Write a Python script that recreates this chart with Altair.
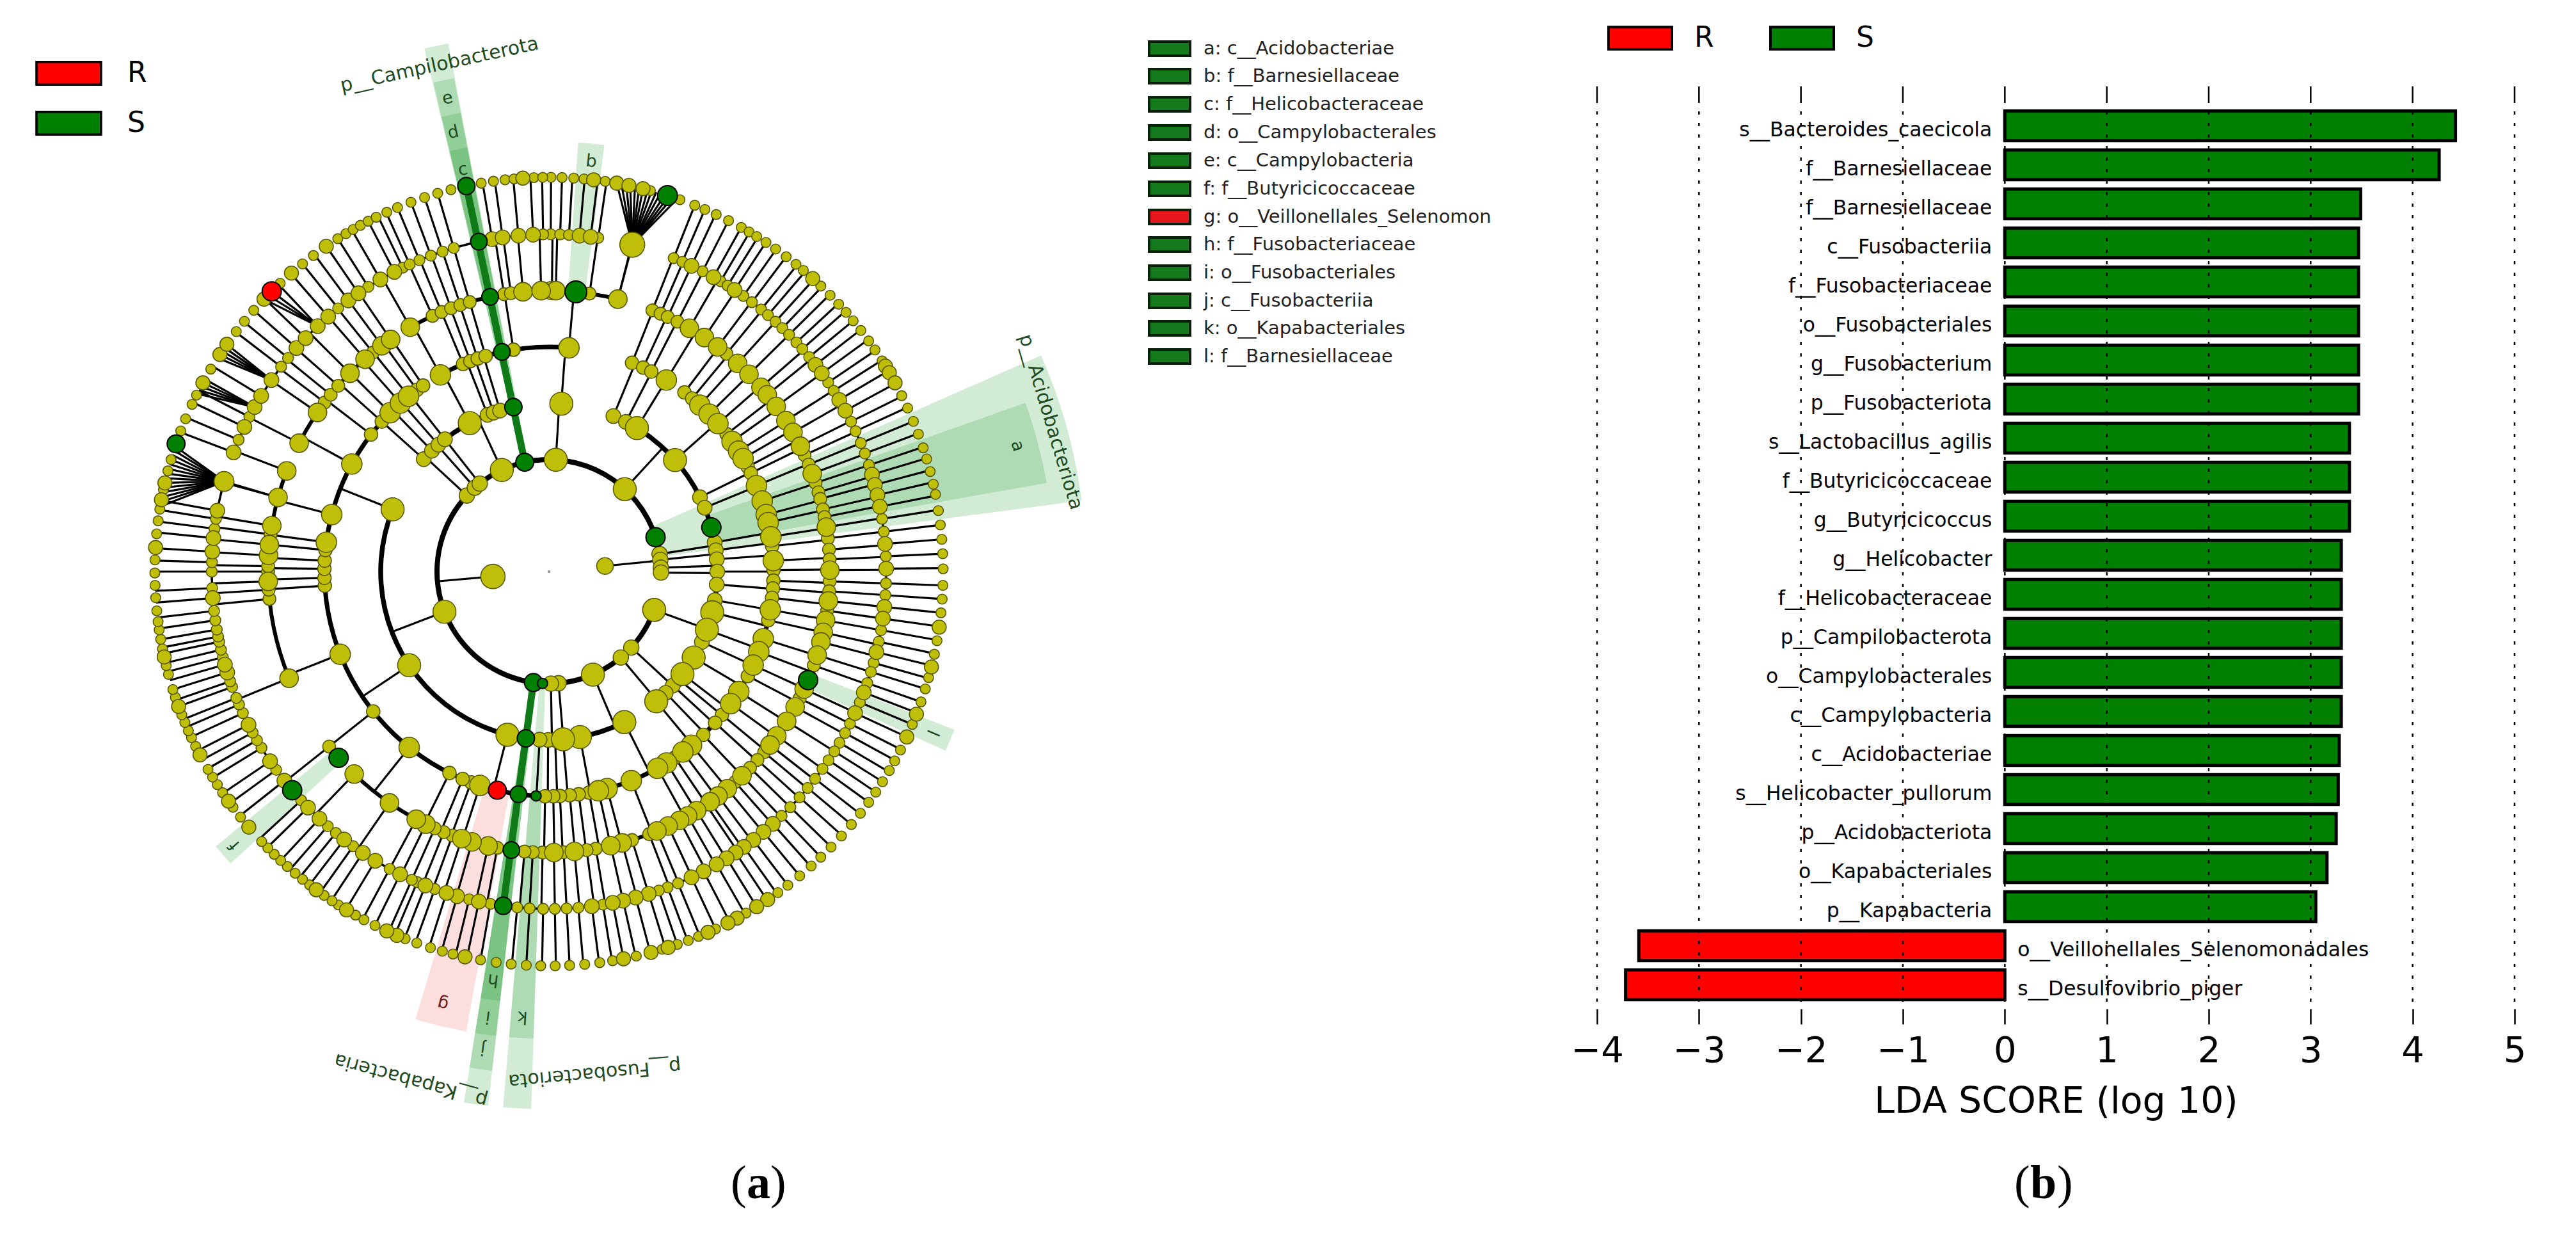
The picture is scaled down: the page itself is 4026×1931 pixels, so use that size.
import math
import altair as alt
import pandas as pd

# ---------- bar panel values ----------
bar_labels = ["s__Bacteroides_caecicola","f__Barnesiellaceae","f__Barnesiellaceae","c__Fusobacteriia",
 "f__Fusobacteriaceae","o__Fusobacteriales","g__Fusobacterium","p__Fusobacteriota","s__Lactobacillus_agilis",
 "f__Butyricicoccaceae","g__Butyricicoccus","g__Helicobacter","f__Helicobacteraceae","p__Campilobacterota",
 "o__Campylobacterales","c__Campylobacteria","c__Acidobacteriae","s__Helicobacter_pullorum","p__Acidobacteriota",
 "o__Kapabacteriales","p__Kapabacteria","o__Veillonellales_Selenomonadales","s__Desulfovibrio_piger"]
bar_scores = [4.42,4.26,3.49,3.47,3.47,3.47,3.47,3.47,3.38,3.38,3.38,3.30,3.30,3.30,3.30,3.30,3.28,3.27,3.25,3.16,3.05,-3.59,-3.72]
lda_ticks = [-4,-3,-2,-1,0,1,2,3,4,5]

# ---------- clade list ----------
clade_keys = ["a: c__Acidobacteriae","b: f__Barnesiellaceae","c: f__Helicobacteraceae","d: o__Campylobacterales",
 "e: c__Campylobacteria","f: f__Butyricicoccaceae","g: o__Veillonellales_Selenomon","h: f__Fusobacteriaceae",
 "i: o__Fusobacteriales","j: c__Fusobacteriia","k: o__Kapabacteriales","l: f__Barnesiellaceae"]
clade_classes = ["S","S","S","S","S","S","R","S","S","S","S","S"]

# ---------- cladogram: node angles (deg clockwise from north) per ring ----------
ring_radii = [175,263,351,439,527,616]
ring_thick = [8,7.5,7,6,3.5]
ring_small_d = [24,23,21,20,17,15.5]
ring_big_d = [36,36,32,29,23,22]

ring1_small = [81,84,88,90.5,132.7,140.1,175.1,179,312.8,318.5,321.8]
ring1_big = [3.5,42.6,110,156.9,249,335.1]
ring2_small = [22.5,27.2,63.8,67.7,80,82.7,85.8,90,94.4,99.8,114.7,129.7,132.6,136.1,177.9,180.3,183.2,311.9,315.9,318.9,321.8,338.6,340.8,343.1]
ring2_big = [4.2,31.5,48.5,104,110.2,120.7,127.5,140.4,153.4,169.4,175.2,194.3,236.2,291.7,331.9]
ring3_small = [21.7,24.8,27.1,37.1,39.6,52.3,62.2,64,83.5,89.6,92.3,94.3,96.7,102.5,117.7,129.6,132.3,136.6,145.9,169.7,172.4,174.7,177.2,178.9,181,200.3,202.6,206.3,231.5,266.4,268.4,270.7,272.8,275.5,307.6,311.9,324,325.9,337.5,339.5,341.5,343.6,350.9]
ring3_big = [5.1,31.5,42.2,45.5,48.8,54.6,57.6,59.8,67.5,71.7,75.3,77.4,81.1,87.2,99.8,107.4,110.9,114.6,122.3,126,140.6,143.4,148.4,151.1,158.5,165,167.3,197.9,218.5,248.4,277.5,284.7,298.6,315,318.6,321.3,331.1]
ring4_small = [8.3,21.6,23.4,25,27.2,39.2,65.5,67.6,71.6,73.6,75,77.2,78.8,83.2,85.5,87.5,92,94,98,109.5,116.8,130,132.1,134.3,138.5,146,159.1,162.8,170.4,172.3,177,181.3,183.3,185,190.6,200.1,202,204,231.5,264.4,266.3,270,271.1,277.6,307,309,311.4,321.2,335.5,337.5,339.6,341.6,343.6,350.8,352.2]
ring4_big = [0.6,1.4,14.2,30,33.6,36.9,42.2,45.4,49,51,54,57.5,60.3,63.5,69.6,80.9,89.7,96,100,102.5,104.5,107.3,114.7,118.8,122.2,125.8,128.1,136.6,140.6,143,145,148.3,150.4,152.3,154.9,157.4,164.9,167.3,174.8,179,192.5,195.9,198.1,206,208.2,214.6,223.9,247.7,268,273.3,275.5,279.4,285.3,291,297.2,304.5,314.9,319.1,323.5,325.7,330.4,354.7,358.4]
ring5_small = [0.3,1.9,3.4,8.4,21.7,23.3,27.1,30.6,32,35.2,37,39,40.5,42.2,43.8,45.4,47.2,48.7,50.5,55.9,57.6,63.6,65.4,67.6,69.5,71.6,81,83.2,87.4,92,94,100,102,105.7,107.3,109.3,112.8,116.8,118.6,120.5,122.2,124,125.8,127.9,129.9,132,134.3,136.4,157.5,159.4,161,170.8,175,177,179,181,183.3,185.4,190,193.7,199.8,203,204,208.2,215.5,219.2,221,227.3,234,238.5,240,241.5,245.2,246.8,248,250,251,255.3,256.6,258,258.9,260.1,261.7,263.3,267.2,270,271.6,277.3,279,293,297.3,307.4,309.3,321.3,327.6,334.3,335.6,337.4,339.5,341.6,343.6,359]
ring5_big = [5.2,7.1,25,29.2,33.4,52.2,54,59.4,61.5,73.3,75.1,76.9,78.9,85.3,89.5,96,98,103.8,111,114.8,138.4,140.5,142.7,144.7,146.4,148.2,150.2,152.7,155,162.8,165.1,167.3,169.1,172.7,192,195.8,197.7,201.5,206.2,211,213.5,217.4,222.9,225.6,231.7,235.8,243,252.6,254,265.5,273.4,275.7,280.4,290.7,295.4,299.2,301.4,304.6,311.5,313.8,316.7,319.1,323.5,325.6,330,332.7,350.3,352.1,354.8,357.3]
ring6_small = [0.3,1.9,3.6,5.1,8.2,14.9,19.4,21.7,23.3,25.1,27.1,29.2,30.5,31.8,33.4,35.1,37,38.8,40.2,43.6,45.5,47.3,48.9,50.5,52.3,54.2,55.8,57.7,63.5,65.5,67.6,69.6,71.7,73.4,75.3,77.2,78.7,81.1,83.2,85.3,87.4,89.6,92,94,96,100.1,102.1,105.6,107.3,109.3,112.8,116.9,118.7,120.3,122.2,124,125.8,127.8,129.9,132.1,134.3,136.4,138.3,140.5,142.7,144.5,150,155,157.7,159.3,161,163.3,167.2,170.7,172.6,174.8,177,179.1,181.2,183.3,185.5,187.7,190,194.1,195.7,197.5,199.6,201.4,206.2,208,209.4,212.3,213.4,214.8,217.4,218.7,220.1,221.6,222.9,224.2,225.5,226.8,231.5,233.3,235.9,237.3,238.6,239.9,243.7,245.1,246.2,247.5,248.7,251.4,252.6,254.9,256.2,258.7,260.1,261.5,262.7,264.3,266.2,268,269.8,271.7,275.5,277.4,279.1,282,284.8,286.5,290.9,292.8,295.1,296.6,300.9,307.5,309.4,311.5,317,321.3,323.3,327.6,329,330.2,331.4,332.7,334,335.7,337.4,339.5,341.6,343.6,345.6,350.1,351.9,353.6,354.9,357.8,359.1]
ring6_big = [6.5,9.9,11.7,13.8,42,58.6,59.7,61.4,98.1,104,111.2,114.8,146.3,148.2,151.5,153,156.2,162.4,165,169.1,192.3,202.7,204.3,210.9,216.2,229.6,234.4,242.3,250,257.5,273.5,280.5,283,298.6,303.4,305.2,313.7,319.2,325.6,356.2]

inner_angles = [84.3,265]
inner_diams = [26,38]
hub_angles = [14.3,285.5]
hub_diams = [39,31]
fan_top = [9.9,10.6,11.3,11.9,12.6,13.2,13.8,14.5,15.1,15.8,16.4,17.1,17.7,18.3,19]
fan_left = [279.5,280.2,280.9,281.6,282.3,283,283.7,284.4,285.1,285.8,286.5,287.2,287.9,288.5]
fan_nw1 = [302.8,303.4,304,304.6,305.2]
fan_nw2 = [296.8,297.4,298,298.6]
fan_red = [313.7,314.5,315.3]

arcs_ring1 = [(347.5,432.1),(110,347.5)]
arcs_ring2 = [(22.5,140.4),(153.4,291.7),(311.9,347.8)]
arcs_ring3 = [(331.1,365.1),(37.1,325.9),(21.7,27.1)]
arcs_ring4 = [(330.4,374.2),(297.2,325.7),(247.7,291),(228.5,231.5),(63.5,223.9),(21.6,60.3)]
arcs_ring5 = [(21.7,285),(290.7,368.4)]

enriched_ring = [6,6,6,5,5,5,4,4,4,4,4,3,3,3,2,2,2,1,1,1,1,3,6]
enriched_angle = [17.5,347.9,288.9,348,187.8,229.6,347.9,5.5,187.7,228.5,112.7,347.9,187.8,183.3,347.8,187.9,74.8,347.5,72.1,188,183.3,193.3,315.3]
enriched_diam = [31,27,28,26,27,30,26,34,26,30,30,26,26,16,27,27,30,28,30,28,16,28,30]
enriched_class = ["S"]*21+["R","R"]

# wedges: angle start, end, inner radius, outer radius, colour
wedge_a0 = [66.3,70.5,346.6,346.7,346.7,346.7,181.9,181.9,186.5,186.5,186.5,186.5,190.2,3.9,227.5,111.3]
wedge_a1 = [82.4,79.9,349.2,349.1,349.1,349.1,184.9,184.9,189.1,189.1,189.1,189.1,196.6,7.4,230.5,114.3]
wedge_r0 = [175,263,175,263,351,439,175,351,175,263,351,439,351,439,439,439]
wedge_r1 = [840,790,840,785,730,675,840,730,840,785,730,675,730,672,675,680]
wedge_col = ["g","g","g","g","g","g","g","g","g","g","g","g","r","g","g","g"]

letters = ["a","b","c","d","e","f","g","h","i","j","k","l"]
letter_angle = [75,5.9,347.9,347.7,347.9,229,193.8,187.8,187.8,187.9,183.4,112.8]
letter_r = [758,644,642,702,756,651,695,644,702,752,697,650]

phyla = ["p__Campilobacterota","p__Acidobacteriota","p__Fusobacteriota","p__Kapabacteria"]
phyla_angle = [347.8,73.4,174.8,195.2]
phyla_r = [810,818,787,823]

CX, CY = 850.0, 885.0   # centre of the cladogram inside the left panel
W1, H = 2488, 1915
GREEN, RED = "#008000", "#ff0000"
FONT = "DejaVu Sans"

def pol(angle, r):
    a = math.radians(angle)
    return CX + r*math.sin(a), CY - r*math.cos(a)

xs = alt.Scale(domain=[0, W1], nice=False, zero=False)
ys = alt.Scale(domain=[0, H], reverse=True, nice=False, zero=False)
X = lambda f="x": alt.X(f"{f}:Q", scale=xs, axis=None)
Y = lambda f="y": alt.Y(f"{f}:Q", scale=ys, axis=None)

# wedges
wedge_df = pd.DataFrame({"t0":[math.radians(a) for a in wedge_a0],"t1":[math.radians(a) for a in wedge_a1],
                         "r0":wedge_r0,"r1":wedge_r1,"c":wedge_col,"cx":CX,"cy":CY})
wedges = alt.Chart(wedge_df).mark_arc(opacity=0.2).encode(
    x=X("cx"), y=Y("cy"),
    theta=alt.Theta("t0:Q", scale=None, stack=None), theta2="t1:Q",
    radius=alt.Radius("r1:Q", scale=None), radius2="r0:Q",
    fill=alt.Fill("c:N", scale=alt.Scale(domain=["g","r"], range=["#1f9a2e","#f25a5a"]), legend=None))

# arcs
rows = []
for i, arcs in enumerate([arcs_ring1,arcs_ring2,arcs_ring3,arcs_ring4,arcs_ring5]):
    for a0, a1 in arcs:
        rows.append({"t0":math.radians(a0),"t1":math.radians(a1),"r0":ring_radii[i]-ring_thick[i]/2,
                     "r1":ring_radii[i]+ring_thick[i]/2,"cx":CX,"cy":CY})
arc_layer = alt.Chart(pd.DataFrame(rows)).mark_arc(color="black").encode(
    x=X("cx"), y=Y("cy"),
    theta=alt.Theta("t0:Q", scale=None, stack=None), theta2="t1:Q",
    radius=alt.Radius("r1:Q", scale=None), radius2="r0:Q")

# spokes
rings_small = [ring1_small,ring2_small,ring3_small,ring4_small,ring5_small,ring6_small]
rings_big = [ring1_big,ring2_big,ring3_big,ring4_big,ring5_big,ring6_big]
sp = []
def add(a0, r0, a1, r1):
    x0,y0 = pol(a0,r0); x1,y1 = pol(a1,r1)
    sp.append({"x":x0,"y":y0,"x2":x1,"y2":y1})
for k in range(5):
    for a in rings_small[k]+rings_big[k]:
        add(a, ring_radii[k], a, ring_radii[k+1])
for a in inner_angles:
    add(a, 88, a, ring_radii[0])
for h, fan in [(14.3,fan_top),(285.5,fan_left),(304.6,fan_nw1),(299.2,fan_nw2),(316.7,fan_red)]:
    for a in fan:
        add(h, ring_radii[4], a, ring_radii[5])
add(14.2, ring_radii[3], 14.3, ring_radii[4]); add(285.3, ring_radii[3], 285.5, ring_radii[4])
spokes = alt.Chart(pd.DataFrame(sp)).mark_rule(color="black", strokeWidth=3.2).encode(
    x=X(), y=Y(), x2="x2:Q", y2="y2:Q")

# thick green branches
tb = []
for a0,a1,r0,r1 in [(347.5,347.9,ring_radii[0],ring_radii[5]),(188,187.8,ring_radii[0],ring_radii[4])]:
    x0,y0 = pol(a0,r0); x1,y1 = pol(a1,r1)
    tb.append({"x":x0,"y":y0,"x2":x1,"y2":y1})
branches = alt.Chart(pd.DataFrame(tb)).mark_rule(color="#0f7a17", strokeWidth=11).encode(
    x=X(), y=Y(), x2="x2:Q", y2="y2:Q")

# nodes
nd = []
for k in range(5,-1,-1):
    for a in rings_small[k]:
        x,y = pol(a, ring_radii[k]); nd.append({"x":x,"y":y,"s":ring_small_d[k]**2})
    for a in rings_big[k]:
        x,y = pol(a, ring_radii[k]); nd.append({"x":x,"y":y,"s":ring_big_d[k]**2})
for a,d in zip(hub_angles,hub_diams):
    x,y = pol(a, ring_radii[4]); nd.append({"x":x,"y":y,"s":d**2})
for a,d in zip(inner_angles,inner_diams):
    x,y = pol(a, 88); nd.append({"x":x,"y":y,"s":d**2})
nodes = alt.Chart(pd.DataFrame(nd)).mark_circle(color="#bfbf0a", opacity=1, stroke="#5a5a08", strokeWidth=1.6).encode(
    x=X(), y=Y(), size=alt.Size("s:Q", scale=None, legend=None))

en = []
for r,a,d,c in zip(enriched_ring,enriched_angle,enriched_diam,enriched_class):
    x,y = pol(a, ring_radii[r-1]); en.append({"x":x,"y":y,"s":d**2,"cls":c})
LEG_PATH = "M-1,-0.35H1V0.35H-1Z"
enriched = alt.Chart(pd.DataFrame(en)).mark_circle(opacity=1, stroke="black", strokeWidth=2).encode(
    x=X(), y=Y(), size=alt.Size("s:Q", scale=None, legend=None),
    color=alt.Color("cls:N", scale=alt.Scale(domain=["R","S"], range=[RED,GREEN]),
        legend=alt.Legend(title=None, orient="none", legendX=47, legendY=54, symbolType=LEG_PATH, symbolSize=10200,
                          symbolStrokeColor="black", symbolStrokeWidth=3.5, symbolOpacity=1, labelFontSize=44, labelFont=FONT,
                          labelColor="black", labelOffset=39, rowPadding=-37, padding=0)))

dot_x, dot_y = pol(0,0)
center_dot = alt.Chart(pd.DataFrame({"x":[dot_x],"y":[dot_y]})).mark_circle(color="#999999", size=20, opacity=1).encode(x=X(), y=Y())

# letters
ld = []
for t,a,r,cls in zip(letters,letter_angle,letter_r,clade_classes):
    x,y = pol(a,r); ld.append({"x":x,"y":y,"t":t,"rot":a,"col":"#1f4a22" if cls=="S" else "#6e1c1c"})
letter_text = alt.Chart(pd.DataFrame(ld)).mark_text(font=FONT, fontSize=27, align="center", baseline="middle").encode(
    x=X(), y=Y(), text="t:N", angle=alt.Angle("rot:Q", scale=None), color=alt.Color("col:N", scale=None))
pd_rows = []
for t,a,r in zip(phyla,phyla_angle,phyla_r):
    x,y = pol(a,r); pd_rows.append({"x":x,"y":y,"t":t,"rot":a})
phyla_text = alt.Chart(pd.DataFrame(pd_rows)).mark_text(font=FONT, fontSize=30, align="center", baseline="middle", color="#1f4a22").encode(
    x=X(), y=Y(), text="t:N", angle=alt.Angle("rot:Q", scale=None))

# key at the middle
key_df = pd.DataFrame({"t":clade_keys,"cls":clade_classes,
    "y":[68,111,155,199,243,287,331,374,418,462,505,549]})
key_df["x0"]=1788; key_df["x1"]=1852; key_df["y0"]=key_df.y-11; key_df["y1"]=key_df.y+11; key_df["tx"]=1873
key_rect = alt.Chart(key_df).mark_rect(stroke="#0a200a", strokeWidth=4).encode(
    x=X("x0"), x2="x1:Q", y=Y("y0"), y2="y1:Q",
    fill=alt.Fill("cls:N", scale=alt.Scale(domain=["R","S"], range=["#e5171c","#147a1c"]), legend=None))
key_text = alt.Chart(key_df).mark_text(font=FONT, fontSize=29, align="left", baseline="middle", color="#222222").encode(
    x=X("tx"), y=Y(), text="t:N")

cap_a = alt.Chart(pd.DataFrame({"t":["(","a",")"],"x":[1134,1159,1196],"y":[1864,1864,1864],"w":["normal","bold","normal"]}))
cap_a1 = cap_a.mark_text(font="Liberation Serif", fontSize=74, align="left", baseline="alphabetic", color="black").transform_filter("datum.w=='normal'").encode(x=X(), y=Y(), text="t:N")
cap_a2 = cap_a.mark_text(font="Liberation Serif", fontSize=74, fontWeight="bold", align="left", baseline="alphabetic", color="black").transform_filter("datum.w=='bold'").encode(x=X(), y=Y(), text="t:N")

left = alt.layer(wedges, spokes, arc_layer, branches, nodes, enriched, center_dot, letter_text, phyla_text,
                 key_rect, key_text, cap_a1, cap_a2).properties(width=W1, height=H).resolve_scale(fill="independent")

# ---------- bar panel ----------
PITCH = 61.0
def row(px):   # image pixel -> row units
    return (px-196.5)/PITCH
xb = alt.Scale(domain=[-4,5], nice=False, zero=False)
yb = alt.Scale(domain=[row(8), row(8+H)], reverse=True, nice=False, zero=False)
bar_df = pd.DataFrame({"label":bar_labels,"score":bar_scores,"row":range(len(bar_labels))})
bar_df["zero"]=0; bar_df["y0"]=bar_df.row-0.38; bar_df["y1"]=bar_df.row+0.38
bar_df["cls"]=["S" if s>0 else "R" for s in bar_scores]
xaxis = alt.Axis(values=lda_ticks, tickSize=24, tickWidth=2.5, tickColor="black", domain=False, grid=False, labelFontSize=56,
    labelFont=FONT, labelColor="black", labelPadding=14, labelFlush=False, title="LDA SCORE (log 10)", titleFontSize=57, titleFont=FONT,
    titleFontWeight="normal", titleColor="black", titlePadding=24, offset=-(8+H-1576), format="d")
bars = alt.Chart(bar_df).mark_bar(stroke="black", strokeWidth=5).encode(
    x=alt.X("score:Q", scale=xb, axis=xaxis), x2="zero:Q",
    y=alt.Y("y0:Q", scale=yb, axis=None), y2="y1:Q",
    color=alt.Color("cls:N", scale=alt.Scale(domain=["R","S"], range=[RED,GREEN]),
        legend=alt.Legend(title=None, orient="none", legendX=16, legendY=0, direction="horizontal", symbolType=LEG_PATH, symbolSize=9800,
                          symbolStrokeColor="black", symbolStrokeWidth=4, symbolOpacity=1, labelFontSize=44, labelFont=FONT,
                          labelColor="black", labelOffset=33, columnPadding=80, padding=0)))
tick_df = pd.DataFrame({"v":lda_ticks,"t0":row(135),"t1":row(156),"g0":row(156),"g1":row(1576)})
top_ticks = alt.Chart(tick_df).mark_rule(color="black", strokeWidth=2.5).encode(
    x=alt.X("v:Q", scale=xb), y=alt.Y("t0:Q", scale=yb), y2="t1:Q")
grid = alt.Chart(tick_df).mark_rule(color="black", strokeWidth=2.5, strokeDash=[5,13]).encode(
    x=alt.X("v:Q", scale=xb), y=alt.Y("g0:Q", scale=yb), y2="g1:Q")
pos_lab = alt.Chart(bar_df[bar_df.score>0]).mark_text(font=FONT, fontSize=31.4, align="right", baseline="middle", dx=-20, dy=7, color="black").encode(
    x=alt.X("zero:Q", scale=xb), y=alt.Y("row:Q", scale=yb), text="label:N")
neg_lab = alt.Chart(bar_df[bar_df.score<0]).mark_text(font=FONT, fontSize=31.4, align="left", baseline="middle", dx=20, dy=7, color="black").encode(
    x=alt.X("zero:Q", scale=xb), y=alt.Y("row:Q", scale=yb), text="label:N")
cap_df = pd.DataFrame({"t":["(","b",")"],"x":[652,677,719],"y":[1864,1864,1864],"w":["normal","bold","normal"]})
cap_b1 = alt.Chart(cap_df[cap_df.w=="normal"]).mark_text(font="Liberation Serif", fontSize=74, align="left", baseline="alphabetic", color="black").encode(
    x=alt.X("x:Q", scale=alt.Scale(domain=[0,1434], range=[0,1434], nice=False, zero=False), axis=None), y=alt.Y("y:Q", scale=ys, axis=None), text="t:N")
cap_b2 = alt.Chart(cap_df[cap_df.w=="bold"]).mark_text(font="Liberation Serif", fontSize=74, fontWeight="bold", align="left", baseline="alphabetic", color="black").encode(
    x=alt.X("x:Q", scale=alt.Scale(domain=[0,1434], range=[0,1434], nice=False, zero=False), axis=None), y=alt.Y("y:Q", scale=ys, axis=None), text="t:N")

right_main = alt.layer(bars, grid, top_ticks, pos_lab, neg_lab).properties(width=1434, height=H)
right = alt.layer(right_main, cap_b1, cap_b2).resolve_scale(x="independent", y="independent").properties(width=1434, height=H)

chart = alt.hconcat(left, right, spacing=0, bounds="flush").resolve_scale(color="independent").properties(padding=0).configure_view(strokeWidth=0)
chart.save("out.html", embed_options={"renderer": "svg", "actions": False})
